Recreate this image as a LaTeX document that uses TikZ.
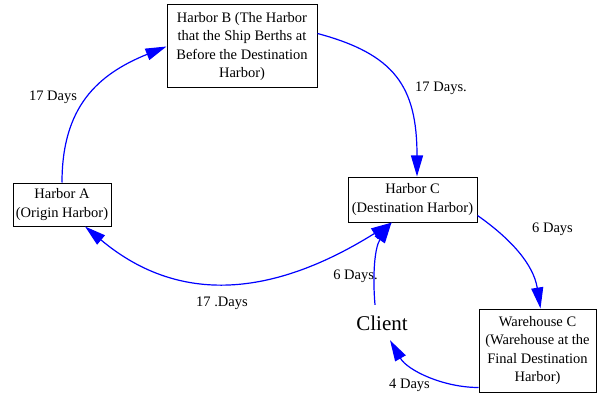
\documentclass[tikz,border=0pt]{standalone}
\usepackage{fontspec}
\setmainfont{Liberation Serif}
\usetikzlibrary{arrows.meta}
\begin{document}
\begin{tikzpicture}[x=1pt,y=1pt,
  box/.style={draw=black, line width=1pt, rectangle, align=center, inner sep=0pt,
    font=\fontsize{14.5}{18.5}\selectfont},
  conn/.style={draw=blue, line width=1.2pt, -{Triangle[length=21pt,width=12pt]}},
  biconn/.style={draw=blue, line width=1.2pt, {Triangle[length=21pt,width=12pt]}-{Triangle[length=21pt,width=12pt]}},
  lbl/.style={font=\fontsize{14.5}{18.5}\selectfont, inner sep=0pt}]
\useasboundingbox (0,0) rectangle (597,-393);
\node[box, minimum width=150pt, minimum height=83pt] (B) at (242,-46.5)
  {Harbor B (The Harbor\\that the Ship Berths at\\Before the Destination\\Harbor)};
\node[box, minimum width=98pt, minimum height=43pt] (A) at (62,-204.5)
  {Harbor A\\(Origin Harbor)};
\node[box, minimum width=129pt, minimum height=45pt] (C) at (412.5,-199.5)
  {Harbor C\\(Destination Harbor)};
\node[box, minimum width=117pt, minimum height=83pt] (W) at (537.5,-350.5)
  {Warehouse C\\(Warehouse at the\\Final Destination\\Harbor)};
\node[inner sep=0pt, minimum width=60pt, minimum height=37pt,
  font=\fontsize{21}{25}\selectfont] (Client) at (382,-323.5) {Client};

\draw[conn] (A.north) .. controls +(90:75) and +(202:75) .. (B.west);
\draw[conn] ([yshift=-29pt]B.north east) .. controls +(-15:80) and +(90:90) .. ([xshift=4.5pt]C.north);
\draw[biconn] ([xshift=23pt]A.south) .. controls +(-40:130) and +(212:130) .. ([xshift=-20.5pt]C.south);
\draw[conn] ([xshift=-7pt]Client.north) .. controls +(95:30) and +(236:30) .. ([xshift=-21pt]C.south);
\draw[conn] ([yshift=7pt]C.south east) .. controls +(-35:40) and +(99:45) .. ([xshift=3pt]W.north);
\draw[conn] ([yshift=5pt]W.south west) .. controls +(180:35) and +(-60:35) .. ([xshift=8pt,yshift=2pt]Client.south);

\node[lbl] (l1) at (53,-97) {17 Days};
\node[lbl] (l2) at (441,-88) {17 Days.};
\node[lbl] (l3) at (222,-303) {17 .Days};
\node[lbl] (l4) at (355.5,-276) {6 Days.};
\node[lbl] (l5) at (552.5,-229) {6 Days};
\node[lbl] (l6) at (409.5,-385) {4 Days};
\end{tikzpicture}
\end{document}
